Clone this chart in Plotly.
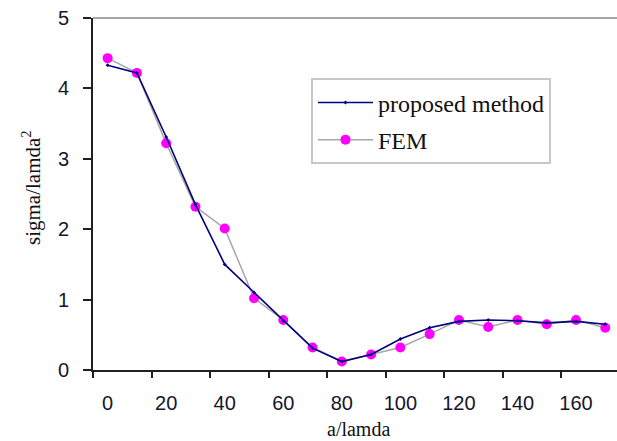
import plotly.graph_objects as go

x_vals = [0, 10, 20, 30, 40, 50, 60, 70, 80, 90, 100, 110, 120, 130, 140, 150, 160, 170]
proposed = [4.33, 4.22, 3.31, 2.35, 1.50, 1.10, 0.70, 0.31, 0.12, 0.22, 0.44, 0.60, 0.69, 0.71, 0.70, 0.67, 0.69, 0.65]
fem = [4.43, 4.22, 3.22, 2.32, 2.01, 1.02, 0.71, 0.32, 0.12, 0.22, 0.32, 0.51, 0.71, 0.61, 0.71, 0.65, 0.71, 0.60]
x_tick_labels = [0, 20, 40, 60, 80, 100, 120, 140, 160]
x_tick_marks = [-5, 15, 35, 55, 75, 95, 115, 135, 155]
y_ticks = [0, 1, 2, 3, 4, 5]

fig = go.Figure()
fig.add_trace(go.Scatter(
    x=x_vals, y=fem, name="FEM", mode="lines+markers",
    line=dict(color="#a6a6a6", width=1.5),
    marker=dict(color="#ff00ff", size=10, symbol="circle"),
    legendgroup="b", legendrank=2,
))
fig.add_trace(go.Scatter(
    x=x_vals, y=proposed, name="proposed method", mode="lines+markers",
    line=dict(color="#000080", width=1.6),
    marker=dict(color="#000080", size=3, symbol="diamond"),
    legendgroup="a", legendrank=1,
))
# helper trace for the boundary tick marks axis
fig.add_trace(go.Scatter(x=[0], y=[0], xaxis="x2", mode="markers",
                         marker=dict(opacity=0), showlegend=False, hoverinfo="skip"))

tick_font = dict(family="Arial, Liberation Sans", size=20, color="#15152a")
serif = "Liberation Serif, Times New Roman, serif"

fig.update_layout(
    width=617, height=441,
    margin=dict(l=93, r=0, t=17.5, b=70.5),
    paper_bgcolor="white", plot_bgcolor="white",
    showlegend=True,
    xaxis=dict(range=[-5, 174], tickvals=x_tick_labels, ticks="", showgrid=False,
               zeroline=False, showline=True, linecolor="#202020", linewidth=2,
               tickfont=tick_font, ticklabelstandoff=14),
    xaxis2=dict(range=[-5, 174], overlaying="x", anchor="y", side="bottom",
                tickvals=x_tick_marks, ticks="outside", ticklen=7, tickwidth=2,
                tickcolor="#202020", showticklabels=False, showgrid=False,
                zeroline=False, showline=False),
    yaxis=dict(range=[0, 5], tickvals=y_ticks, ticks="outside", ticklen=8, tickwidth=2,
               tickcolor="#202020", showgrid=False, zeroline=False, showline=True,
               linecolor="#202020", linewidth=2, tickfont=tick_font, ticklabelstandoff=10),
    legend=dict(x=0.416, y=0.8286, xanchor="left", yanchor="top",
                bordercolor="#c8c8c8", borderwidth=2, bgcolor="white",
                font=dict(family=serif, size=24, color="#111"),
                itemwidth=55, tracegroupgap=3, traceorder="grouped"),
    shapes=[dict(type="line", xref="paper", yref="paper", x0=0, x1=1, y0=1, y1=1,
                 line=dict(color="#a6a6a6", width=2))],
    annotations=[
        dict(text="a/lamda", xref="paper", yref="paper", x=(358 - 93) / 524, y=-(430 - 370.5) / 353,
             xanchor="center", yanchor="middle", showarrow=False,
             font=dict(family=serif, size=20, color="#111")),
        dict(text="sigma/lamda<sup>2</sup>", xref="paper", yref="paper",
             x=(31 - 93) / 524, y=(370.5 - 188) / 353, textangle=-90,
             xanchor="center", yanchor="middle", showarrow=False,
             font=dict(family=serif, size=21, color="#111")),
    ],
)

fig.write_html("out.html")
